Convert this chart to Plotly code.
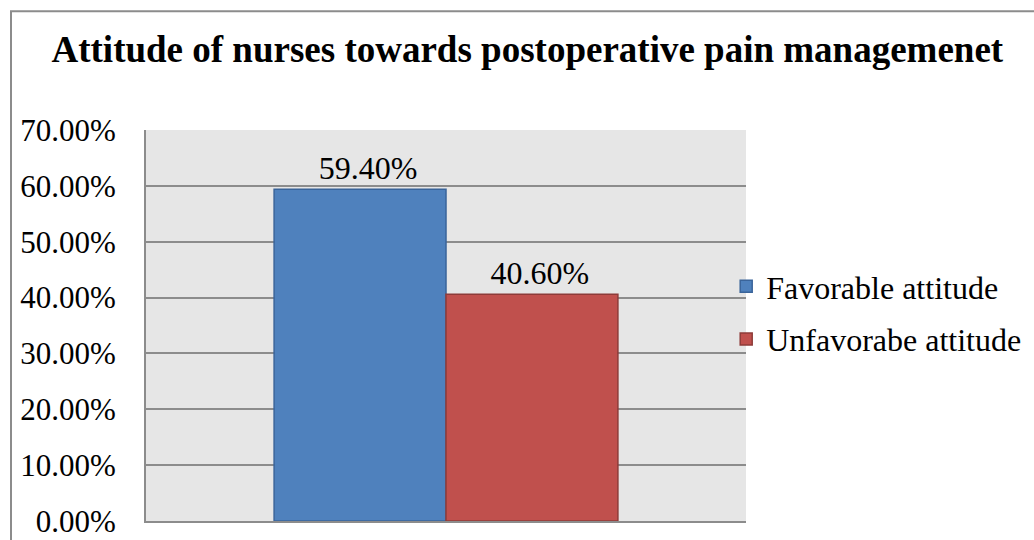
import plotly.graph_objects as go

categories = ["Attitude"]
series_names = ["Favorable attitude", "Unfavorabe attitude"]
favorable = [0.594]
unfavorable = [0.406]
tick_vals = [0, 0.1, 0.2, 0.3, 0.4, 0.5, 0.6, 0.7]

colors = ["#4F81BD", "#C0504D"]
borders = ["#3A649A", "#8E3B39"]

fig = go.Figure()
for i, (name, vals, c, b) in enumerate(zip(series_names, [favorable, unfavorable], colors, borders)):
    fig.add_trace(go.Bar(
        x=categories, y=vals, name=name, legendgroup=f"g{i}",
        marker=dict(color=c, line=dict(color=b, width=1.5)),
        texttemplate="\u2002%{y:.2%}", textposition="outside",
        textfont=dict(family="Liberation Serif", size=32, color="black"),
        cliponaxis=False, hoverinfo="skip",
    ))

fig.update_layout(
    width=1034, height=540,
    paper_bgcolor="white", plot_bgcolor="#E6E6E6",
    margin=dict(l=146, r=288, t=130, b=19, autoexpand=False),
    barmode="group", bargap=0.427, bargroupgap=0,
    font=dict(family="Liberation Serif", color="black"),
    title=dict(text="<b>Attitude of nurses towards postoperative pain managemenet</b>",
               x=0.51, xanchor="center", y=0.91, yanchor="middle",
               font=dict(family="Liberation Serif", size=37, color="black")),
    xaxis=dict(range=[-0.5, 0.5], showticklabels=False, showgrid=False, automargin=False,
               showline=True, linecolor="#8C8C8C", linewidth=2, zeroline=False),
    yaxis=dict(range=[0, 0.7], tickvals=tick_vals, tickformat=".2%", automargin=False,
               tickfont=dict(family="Liberation Serif", size=31, color="black"),
               showgrid=True, gridcolor="#8C8C8C", gridwidth=2,
               showline=True, linecolor="#8C8C8C", linewidth=2, zeroline=False,
               ticks="", ticklen=0, ticklabelstandoff=22),
    legend=dict(x=0.967, xanchor="left", y=0.532, yanchor="middle",
                font=dict(family="Liberation Serif", size=32, color="black"),
                bgcolor="rgba(0,0,0,0)", itemwidth=30, tracegroupgap=8,
                traceorder="grouped"),
    showlegend=True,
)

fig.add_shape(type="rect", xref="paper", yref="paper",
              x0=-0.225, x1=1.5, y0=-0.1, y1=1.304,
              line=dict(color="#8C8C8C", width=2), fillcolor="rgba(0,0,0,0)", layer="above")

fig.write_html("out.html", config={"displayModeBar": False},
               post_script="document.body.style.margin='0';document.body.style.overflow='hidden';")
